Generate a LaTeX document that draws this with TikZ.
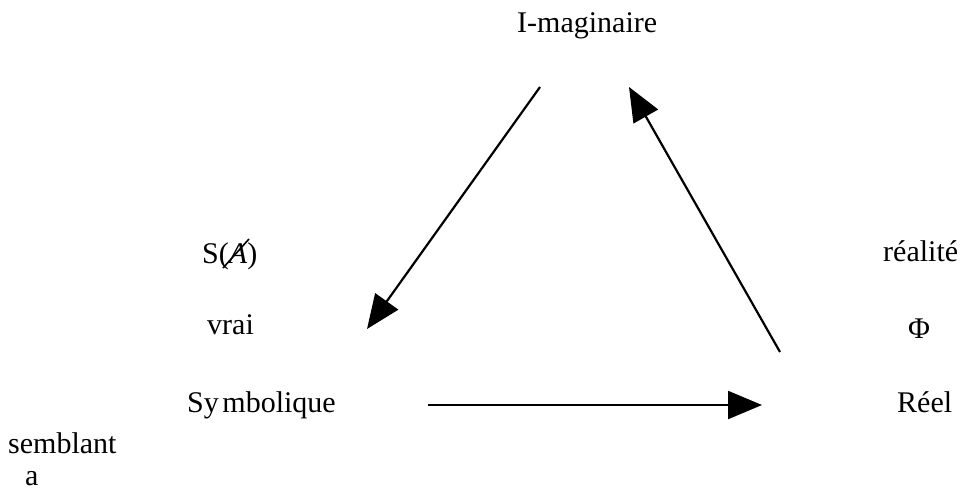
\documentclass[tikz,border=0pt]{standalone}
\usepackage{fontspec}
\setmainfont{Liberation Serif}
\usetikzlibrary{arrows.meta}
\begin{document}
\begin{tikzpicture}[x=1pt,y=-1pt,
  lbl/.style={anchor=base west,inner sep=0pt,font=\fontsize{30}{34}\selectfont},
  arr/.style={line width=2.2pt,-{Triangle[length=34pt,width=28pt]}}]
\useasboundingbox (0,0) rectangle (965,490);
\node[lbl] (im) at (517,32) {I-maginaire};
\node[lbl] (sa) at (202,263) {S(\textit{A})};
\draw[line width=1.6pt] (223,268) -- (249,239);
\node[lbl] (vr) at (207,334) {vrai};
\node[lbl] (sy) at (187,412) {Sy\hspace{0.12em}mbolique};
\node[lbl] (re) at (883,261) {réalité};
\node[lbl] (ph) at (908,338) {Φ};
\node[lbl] (rl) at (897,412) {Réel};
\node[lbl] (se) at (8,453) {semblant};
\node[lbl] (a) at (25,485) {a};
\coordinate (a1s) at (540,87);
\coordinate (a1e) at (367,329);
\coordinate (a2s) at (780,352);
\coordinate (a2e) at (629,87);
\coordinate (a3s) at (428,405);
\coordinate (a3e) at (762,405);
\draw[arr] (a1s) -- (a1e);
\draw[arr] (a2s) -- (a2e);
\draw[arr] (a3s) -- (a3e);
\end{tikzpicture}
\end{document}
